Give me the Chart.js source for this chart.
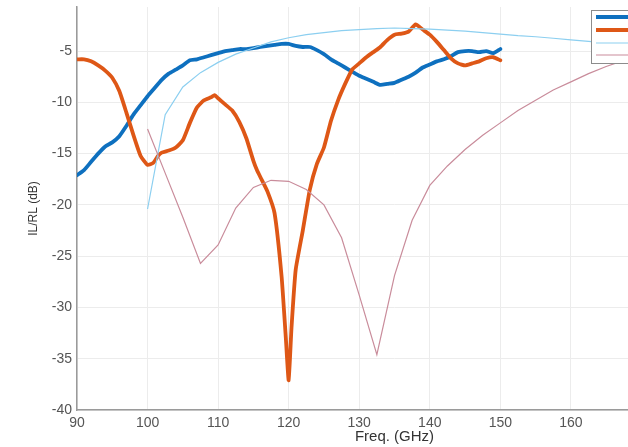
<!DOCTYPE html>
<html>
<head>
<meta charset="utf-8">
<script src="https://cdn.jsdelivr.net/npm/chart.js@4/dist/chart.umd.min.js"></script>
<style>
  html, body { margin: 0; padding: 0; background: #fff; overflow: hidden; }
  #wrap { position: absolute; left: 0; top: 0; width: 720px; height: 447px; }
</style>
</head>
<body>
<div id="wrap"><canvas id="c" width="720" height="447"></canvas></div>
<script>
// ---- data ----
const seriesNames = ['IL (Meas.)', 'RL (Meas.)', 'IL (Sim.)', 'RL (Sim.)'];

const freqIL = [90,91,92,93,94,95,96,97,98,99,100,101,102,103,104,105,106,107,108,109,110,111,112,113,114,115,116,117,118,119,120,121,122,123,124,125,126,127,128,129,130,131,132,133,134,135,136,137,138,139,140,141,142,143,144,145,146,147,148,149,150];
const ilMeas = [-17.1,-16.6,-15.8,-15.0,-14.3,-13.9,-13.3,-12.3,-11.2,-10.3,-9.4,-8.6,-7.8,-7.2,-6.8,-6.4,-5.9,-5.8,-5.6,-5.4,-5.2,-5.0,-4.9,-4.8,-4.8,-4.7,-4.6,-4.5,-4.4,-4.3,-4.3,-4.5,-4.6,-4.6,-4.9,-5.3,-5.8,-6.2,-6.6,-7.0,-7.4,-7.7,-8.0,-8.3,-8.2,-8.1,-7.8,-7.5,-7.1,-6.6,-6.3,-6.0,-5.8,-5.5,-5.1,-5.0,-5.0,-5.1,-5.0,-5.2,-4.8];

const freqRL = [90,91,92,93,94,95,96,97,98,99,100,100.8,101.5,102,103,104,105,106,107,108,109,109.5,110,111,112,113,114,115,115.5,116,117,118,119,119.6,120,120.4,121,122,123,124,125,126,127,128,129,130,131,132,133,134,135,136,137,138,139,140,141,142,143,144,145,146,147,148,149,150];
const rlMeas = [-5.8,-5.8,-6.0,-6.4,-6.9,-7.6,-8.9,-11.0,-13.2,-15.2,-16.1,-15.9,-15.2,-14.9,-14.7,-14.4,-13.7,-12.0,-10.5,-9.8,-9.5,-9.3,-9.6,-10.2,-10.8,-11.9,-13.5,-15.7,-16.6,-17.3,-18.7,-20.8,-27.0,-33.0,-37.1,-32.0,-26.3,-22.5,-18.5,-16.0,-14.4,-11.8,-9.8,-8.2,-6.8,-6.2,-5.6,-5.1,-4.6,-3.9,-3.4,-3.3,-3.1,-2.4,-2.9,-3.4,-4.1,-4.9,-5.7,-6.2,-6.4,-6.2,-6.0,-5.7,-5.6,-5.9];

const freqSim = [100,102.5,105,107.5,110,112.5,115,117.5,120,122.5,125,127.5,130,132.5,135,137.5,140,142.5,145,147.5,150,152.5,155,157.5,160,162.5,165,167.5,170];
const ilSim = [-20.4,-11.2,-8.5,-7.1,-6.1,-5.3,-4.7,-4.1,-3.7,-3.4,-3.2,-3.0,-2.9,-2.8,-2.75,-2.8,-2.85,-2.95,-3.05,-3.2,-3.35,-3.5,-3.6,-3.75,-3.9,-4.05,-4.2,-4.35,-4.5];
const rlSim = [-12.6,-16.9,-21.2,-25.7,-23.9,-20.3,-18.3,-17.6,-17.7,-18.5,-20.0,-23.2,-28.8,-34.6,-26.9,-21.5,-18.1,-16.2,-14.6,-13.2,-12.0,-10.8,-9.8,-8.8,-8.0,-7.2,-6.5,-5.9,-5.4];

const yTicks = [-40,-35,-30,-25,-20,-15,-10,-5];
const xTicks = [90,100,110,120,130,140,150,160,170,180];

// ---- helpers ----
const pts = (xs, ys) => xs.map((x, i) => ({x: x, y: ys[i]}));
const noPad = (s) => { s.paddingTop = 0; s.paddingBottom = 0; s.paddingLeft = 0; s.paddingRight = 0; };

const legendBox = {
  id: 'legendBox',
  afterDraw(chart) {
    const ctx = chart.ctx;
    const x0 = 591, y0 = 10, w = 110, h = 53;
    ctx.save();
    ctx.fillStyle = '#ffffff';
    ctx.fillRect(x0, y0, w, h);
    ctx.strokeStyle = '#8c8c8c';
    ctx.lineWidth = 1;
    ctx.strokeRect(x0 + 0.5, y0 + 0.5, w, h);
    const ys = [17, 30, 43, 55];
    chart.data.datasets.forEach((ds, i) => {
      ctx.strokeStyle = ds.borderColor;
      ctx.lineWidth = ds.borderWidth;
      ctx.beginPath();
      ctx.moveTo(x0 + 5, ys[i]);
      ctx.lineTo(x0 + 38, ys[i]);
      ctx.stroke();
    });
    ctx.restore();
  }
};

new Chart(document.getElementById('c'), {
  type: 'line',
  data: {
    datasets: [
      { label: seriesNames[0], data: pts(freqIL, ilMeas), borderColor: '#0e70bf', borderWidth: 3.8, pointRadius: 0, tension: 0.2, order: 4, borderJoinStyle: 'round', borderCapStyle: 'round' },
      { label: seriesNames[1], data: pts(freqRL, rlMeas), borderColor: '#de5716', borderWidth: 3.8, pointRadius: 0, tension: 0.15, order: 3, borderJoinStyle: 'round', borderCapStyle: 'round' },
      { label: seriesNames[2], data: pts(freqSim, ilSim), borderColor: '#8ccff0', borderWidth: 1.2, pointRadius: 0, tension: 0, order: 2 },
      { label: seriesNames[3], data: pts(freqSim, rlSim), borderColor: '#c98c9b', borderWidth: 1.2, pointRadius: 0, tension: 0, order: 1 }
    ]
  },
  options: {
    responsive: false,
    animation: false,
    devicePixelRatio: 1,
    layout: { autoPadding: false, padding: { left: 0, top: 7, right: 8, bottom: 0 } },
    plugins: { legend: { display: false }, tooltip: { enabled: false } },
    scales: {
      x: {
        type: 'linear', min: 90, max: 180,
        afterBuildTicks: (s) => { s.ticks = xTicks.map(v => ({value: v})); },
        afterFit: (s) => { s.height = 37; noPad(s); },
        grid: { color: '#ececec', lineWidth: 1, drawTicks: false },
        border: { color: '#9a9a9a', width: 1.5 },
        ticks: { padding: 5, color: '#555', font: { family: 'Liberation Sans', size: 14 }, maxRotation: 0, autoSkip: false },
        title: { display: true, text: 'Freq. (GHz)', color: '#333', font: { family: 'Liberation Sans', size: 15 }, padding: { top: 0, bottom: 1 } }
      },
      y: {
        type: 'linear', min: -40, max: -0.7,
        afterBuildTicks: (s) => { s.ticks = yTicks.map(v => ({value: v})); },
        afterFit: (s) => { s.width = 77; noPad(s); },
        grid: { color: '#ececec', lineWidth: 1, drawTicks: false },
        border: { color: '#9a9a9a', width: 1.5 },
        ticks: { padding: 5, color: '#555', font: { family: 'Liberation Sans', size: 14 } },
        title: { display: true, text: 'IL/RL (dB)', color: '#333', font: { family: 'Liberation Sans', size: 12 }, padding: { top: 26, bottom: 0 } }
      }
    }
  },
  plugins: [legendBox]
});
</script>
</body>
</html>
